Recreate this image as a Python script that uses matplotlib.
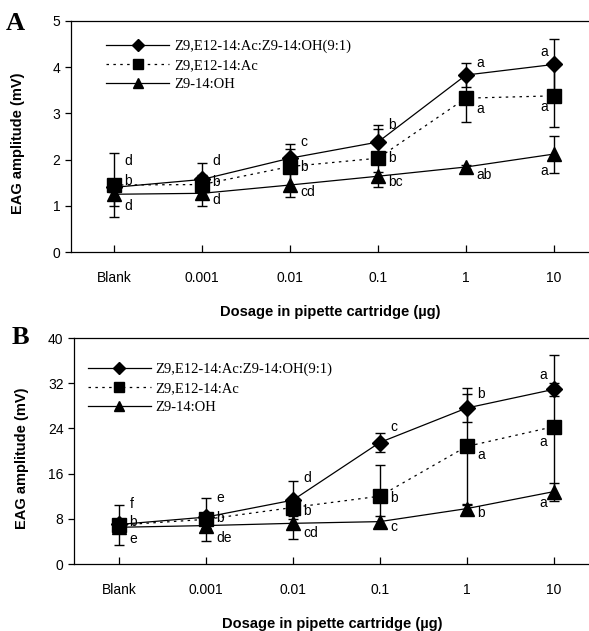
import matplotlib
matplotlib.use('Agg')
import matplotlib.pyplot as plt
from matplotlib.lines import Line2D

# ---------------- data ----------------
doses = ['Blank', '0.001', '0.01', '0.1', '1', '10']
series_names = ['Z9,E12-14:Ac:Z9-14:OH(9:1)', 'Z9,E12-14:Ac', 'Z9-14:OH']

# Panel A
a_mix = [1.40, 1.57, 2.03, 2.38, 3.83, 4.06]
a_mix_err = [0.10, 0.10, 0.20, 0.37, 0.26, 0.55]
a_ac = [1.45, 1.46, 1.85, 2.03, 3.33, 3.38]
a_ac_err = [0.70, 0.47, 0.49, 0.63, 0.52, 0.68]
a_oh = [1.25, 1.27, 1.45, 1.64, 1.84, 2.12]
a_oh_err = [0.25, 0.10, 0.26, 0.10, 0.05, 0.40]
a_letters = [['d', 'd', 'c', 'b', 'a', 'a'],
             ['b', 'b', 'b', 'b', 'a', 'a'],
             ['d', 'd', 'cd', 'bc', 'ab', 'a']]
a_letter_y = [[1.97, 1.97, 2.38, 2.75, 4.09, 4.33],
              [1.54, 1.52, 1.85, 2.03, 3.10, 3.14],
              [1.00, 1.13, 1.30, 1.52, 1.67, 1.75]]

# Panel B
b_mix = [7.0, 8.3, 11.3, 21.5, 27.6, 30.9]
b_mix_err = [0.5, 0.8, 3.4, 1.7, 2.5, 1.2]
b_ac = [6.9, 7.9, 10.0, 12.0, 20.8, 24.3]
b_ac_err = [3.6, 3.75, 1.5, 5.5, 10.3, 12.7]
b_oh = [6.5, 6.8, 7.2, 7.5, 9.8, 12.8]
b_oh_err = [0.5, 0.5, 2.8, 1.0, 0.9, 1.6]
b_letters = [['f', 'e', 'd', 'c', 'b', 'a'],
             ['b', 'b', 'b', 'b', 'a', 'a'],
             ['e', 'de', 'cd', 'c', 'b', 'a']]
b_letter_y = [[10.7, 11.7, 15.2, 24.3, 30.1, 33.4],
              [7.4, 8.1, 9.4, 11.7, 19.3, 21.6],
              [4.4, 4.6, 5.5, 6.6, 9.0, 10.8]]

# ---------------- style ----------------
SANS = ['Liberation Sans', 'DejaVu Sans']
SERIF = ['Liberation Serif', 'DejaVu Serif']
plt.rcParams['font.family'] = SANS

W, H = 589, 631
fig = plt.figure(figsize=(W / 100, H / 100), dpi=100)

markers = ['D', 's', '^']
msizes = [8, 10, 10]
lstyles = ['-', (0, (2, 3.5)), '-']


def px_box(left, top, right, bottom):
    return [left / W, 1 - bottom / H, (right - left) / W, (bottom - top) / H]


def panel(rect, series, errs, letters, letter_y, ymax, ystep, xlim, legend_anchor, tag, tag_xy):
    ax = fig.add_axes(rect)
    x = list(range(len(doses)))
    for i, (vals, e) in enumerate(zip(series, errs)):
        ax.errorbar(x, vals, yerr=e, fmt='none', ecolor='black', elinewidth=1.0,
                    capsize=3.5, capthick=1.0, zorder=2)
        ax.plot(x, vals, color='black', lw=0.9, ls=lstyles[i], marker=markers[i],
                ms=msizes[i], mfc='black', mec='black', zorder=3)
        for j in x:
            if j < len(doses) - 1:
                ax.annotate(letters[i][j], (j, letter_y[i][j]), xytext=(7.5, 0),
                            textcoords='offset points', ha='left', va='center',
                            fontsize=10, family=SANS)
            else:
                ax.annotate(letters[i][j], (j, letter_y[i][j]), xytext=(-4.5, 0),
                            textcoords='offset points', ha='right', va='center',
                            fontsize=10, family=SANS)
    ax.set_xlim(*xlim)
    ax.set_ylim(0, ymax)
    ax.set_yticks(range(0, ymax + 1, ystep))
    ax.set_xticks(x)
    ax.set_xticklabels(doses)
    ax.tick_params(axis='x', direction='in', length=5, width=0.9, pad=14, labelsize=10)
    ax.tick_params(axis='y', direction='out', length=4.5, width=0.9, pad=3, labelsize=10)
    for s in ['left', 'bottom', 'top']:
        ax.spines[s].set_linewidth(0.9)
    ax.spines['right'].set_visible(False)
    ax.set_ylabel('EAG amplitude (mV)', fontsize=10.5, fontweight='bold')
    ax.yaxis.set_label_coords(-0.088, 0.47)
    ax.set_xlabel('Dosage in pipette cartridge (\u00b5g)', fontsize=10.5,
                  fontweight='bold', labelpad=14)
    handles = [Line2D([], [], color='black', lw=0.9, ls=lstyles[i], marker=markers[i],
                      ms=msizes[i] * 0.72, mfc='black', mec='black') for i in range(3)]
    ax.legend(handles, series_names, loc='upper left', bbox_to_anchor=legend_anchor,
              frameon=False, borderpad=0, borderaxespad=0, handlelength=4.3,
              handletextpad=0.35, labelspacing=0.4,
              prop={'family': SERIF, 'size': 10.5})
    fig.text(tag_xy[0] / W, 1 - tag_xy[1] / H, tag, fontsize=19, fontweight='bold',
             family=SERIF, ha='left', va='center')
    return ax


panel(px_box(71, 21, 590, 252), [a_mix, a_ac, a_oh], [a_mix_err, a_ac_err, a_oh_err],
      a_letters, a_letter_y, 5, 1, (-0.489, 5.41), (0.068, 0.92), 'A', (6, 24))
panel(px_box(74, 338, 590, 564), [b_mix, b_ac, b_oh], [b_mix_err, b_ac_err, b_oh_err],
      b_letters, b_letter_y, 40, 8, (-0.518, 5.42), (0.027, 0.89), 'B', (12, 338))

fig.savefig('out.png', dpi=100)
